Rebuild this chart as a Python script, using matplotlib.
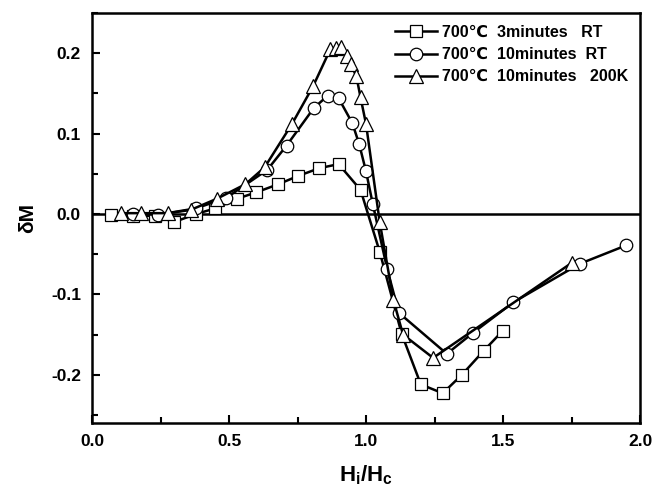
import numpy as np
import matplotlib
matplotlib.use("Agg")
import matplotlib.pyplot as plt
from matplotlib.ticker import MultipleLocator

plt.rcParams['font.family'] = ['Liberation Sans', 'DejaVu Sans']
plt.rcParams['font.weight'] = 'bold'
plt.rcParams['axes.labelweight'] = 'bold'
plt.rcParams['axes.unicode_minus'] = False
plt.rcParams['mathtext.fontset'] = 'custom'
plt.rcParams['mathtext.rm'] = 'Liberation Sans:bold'
plt.rcParams['mathtext.it'] = 'Liberation Sans:bold'
plt.rcParams['mathtext.default'] = 'rm'

# 700C 3 minutes, RT (squares)
x_sq = [0.07, 0.15, 0.23, 0.30, 0.38, 0.45, 0.53, 0.60, 0.68, 0.75, 0.83, 0.90,
        0.98, 1.05, 1.13, 1.20, 1.28, 1.35, 1.43, 1.50]
y_sq = [-0.001, -0.003, -0.002, -0.010, 0.000, 0.007, 0.019, 0.027, 0.037, 0.047,
        0.057, 0.062, 0.030, -0.047, -0.149, -0.212, -0.223, -0.200, -0.170, -0.145]

# 700C 10 minutes, RT (circles)
x_ci = [0.15, 0.24, 0.38, 0.49, 0.64, 0.71, 0.81, 0.86, 0.90, 0.95, 0.975, 1.00,
        1.025, 1.077, 1.12, 1.295, 1.39, 1.537, 1.78, 1.95]
y_ci = [0.000, -0.001, 0.007, 0.020, 0.055, 0.085, 0.132, 0.147, 0.144, 0.113,
        0.087, 0.053, 0.012, -0.068, -0.123, -0.174, -0.148, -0.110, -0.062, -0.039]

# 700C 10 minutes, 200K (triangles)
x_tr = [0.106, 0.18, 0.277, 0.36, 0.456, 0.56, 0.63, 0.73, 0.807, 0.87, 0.89, 0.91,
        0.93, 0.945, 0.965, 0.98, 1.00, 1.05, 1.10, 1.135, 1.245, 1.75]
y_tr = [0.001, 0.001, 0.001, 0.005, 0.019, 0.037, 0.058, 0.112, 0.159, 0.205, 0.206,
        0.208, 0.196, 0.186, 0.171, 0.145, 0.112, -0.010, -0.107, -0.150, -0.179, -0.061]

labels = ['700\u2103  3minutes   RT', '700\u2103  10minutes  RT', '700\u2103  10minutes   200K']

fig = plt.figure(figsize=(6.54, 4.88), dpi=100)
ax = fig.add_axes([0.1407, 0.1332, 0.8379, 0.8402])

ax.axhline(0, color='k', lw=1.8, zorder=1)

style = dict(color='k', lw=1.8, markerfacecolor='white',
             markeredgecolor='k', markeredgewidth=0.9)
ax.plot(x_sq, y_sq, marker='s', markersize=8.5, label=labels[0], **style)
ax.plot(x_ci, y_ci, marker='o', markersize=9, label=labels[1], **style)
ax.plot(x_tr, y_tr, marker='^', markersize=9.5, label=labels[2], **style)

ax.set_xlim(0, 2.0)
ax.set_ylim(-0.26, 0.25)
ax.xaxis.set_major_locator(MultipleLocator(0.5))
ax.xaxis.set_minor_locator(MultipleLocator(0.25))
ax.yaxis.set_major_locator(MultipleLocator(0.1))
ax.yaxis.set_minor_locator(MultipleLocator(0.05))
ax.tick_params(which='both', direction='in', width=1.5, labelsize=12.5, pad=8)
ax.tick_params(which='major', length=6)
ax.tick_params(which='minor', length=4)
for s in ax.spines.values():
    s.set_linewidth(1.8)
for lab in ax.get_xticklabels() + ax.get_yticklabels():
    lab.set_fontweight('bold')

ax.set_xlabel('H$_\\mathregular{i}$/H$_\\mathregular{c}$', fontsize=16,
              fontweight='bold', labelpad=10)
ax.set_ylabel('\u03b4M', fontsize=15, fontweight='bold', labelpad=10)

leg = ax.legend(loc='upper right', frameon=False, fontsize=11.5, handlelength=2.6,
                handletextpad=0.3, labelspacing=0.45, borderaxespad=0.35)
for t in leg.get_texts():
    t.set_fontweight('bold')

fig.savefig('out.png', dpi=100)
